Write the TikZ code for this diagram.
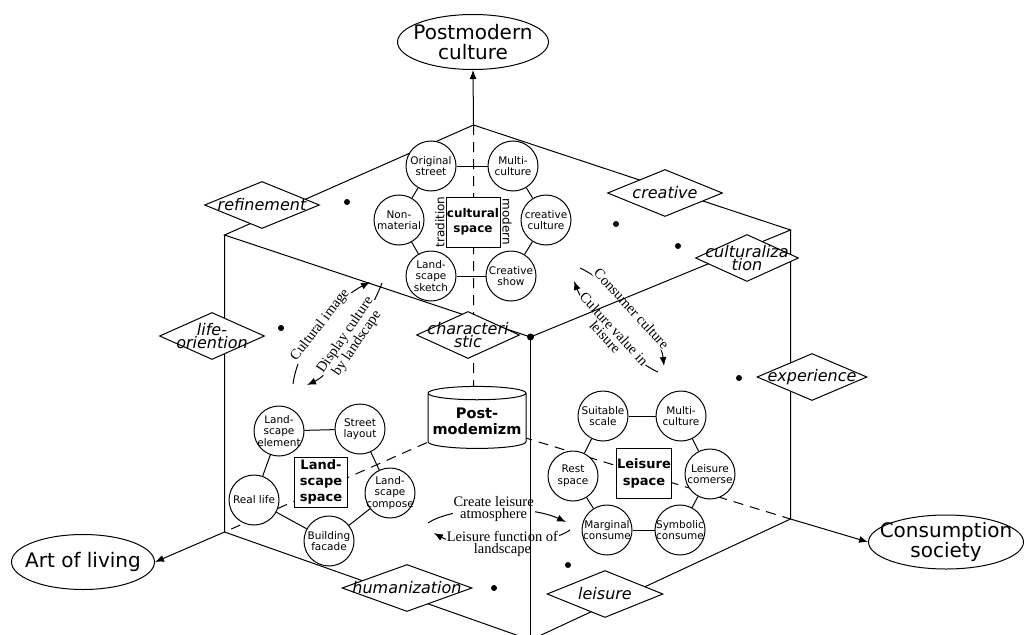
\documentclass[tikz,border=0pt]{standalone}
\usepackage{fontspec}
\setmainfont{DejaVu Sans}
\newfontfamily\notefont{Liberation Serif}
\usepackage{tikz}
\usetikzlibrary{shapes.geometric,arrows.meta}

\tikzset{
  goal/.style={ellipse, draw, fill=white, inner sep=0pt,
    label={[goaltext]center:#1}},
  goaltext/.style={align=center, font=\fontsize{20}{20}\selectfont},
  facet/.style={diamond, draw, fill=white, inner sep=0pt,
    minimum width=115pt, minimum height=47pt,
    label={[facettext]center:#1}},
  facettext/.style={align=center, font=\fontsize{16}{12}\selectfont\itshape},
  ring/.style={circle, draw, fill=white, inner sep=0pt, minimum size=50pt,
    label={[ringtext]center:#1}},
  ringtext/.style={align=center, font=\fontsize{10.5}{11.5}\selectfont},
  core/.style={rectangle, draw, fill=white, inner sep=0pt,
    minimum width=54pt, minimum height=50pt, align=center,
    font=\fontsize{12}{15}\selectfont\bfseries},
  note/.style={fill=white, inner sep=1pt, align=center,
    font=\notefont\fontsize{14.5}{12}\selectfont},
  flow/.style={-{Latex[length=9pt,width=7pt]}},
  backedge/.style={dash pattern=on 10pt off 7pt}
}

\begin{document}
\begin{tikzpicture}[x=1pt, y=-1pt, line width=1pt]
  \useasboundingbox (0,0) rectangle (1024,634);

  \coordinate (T) at (473.5,125);
  \coordinate (LT) at (224.5,235);
  \coordinate (F) at (530.5,337);
  \coordinate (RT) at (790.5,230);
  \coordinate (LB) at (224.5,532);
  \coordinate (RB) at (790.5,519);
  \coordinate (B) at (530.5,640);
  \coordinate (H) at (473.5,422);

  \draw [backedge] (T) -- (H) (H) -- (LB) (H) -- (RB);

  \coordinate (ci1) at (293,384);
  \coordinate (ci2) at (370,282);
  \draw [flow] (ci1) .. controls (298,345) and (335,300) .. node[note, sloped] (cimg) {Cultural image} (ci2);
  \coordinate (dc1) at (382,283);
  \coordinate (dc2) at (307,385);
  \draw [flow] (dc1) .. controls (372,310) and (335,372) .. node[note, sloped] (dcul) {Display culture\\by landscape} (dc2);
  \coordinate (cc1) at (580,268);
  \coordinate (cc2) at (664,366);
  \draw [flow] (cc1) .. controls (610,282) and (660,330) .. node[note, sloped] (ccul) {Consumer culture} (cc2);
  \coordinate (cv1) at (658,372);
  \coordinate (cv2) at (574,281);
  \draw [flow] (cv1) .. controls (630,360) and (585,310) .. node[note, sloped] (cval) {Culture value in\\leisure} (cv2);
  \coordinate (ca1) at (428,523);
  \coordinate (ca2) at (566,522);
  \draw [flow] (ca1) .. controls (455,505) and (530,505) .. node[note] (catm) {Create leisure\\atmosphere} (ca2);
  \coordinate (lf1) at (570,530);
  \coordinate (lf2) at (434,533);
  \draw [flow] (lf1) .. controls (545,548) and (460,548) .. node[note] (lfun) {Leisure function of\\landscape} (lf2);

  \draw (T) -- (LT) -- (F) -- (RT) -- cycle;
  \draw (LT) -- (LB) -- (B) -- (RB) -- (RT);
  \draw (F) -- (B);

  \node[goal={Postmodern\\culture}, minimum width=151pt, minimum height=55pt] (pmc) at (473,42) {};
  \node[goal={Art of living}, minimum width=143pt, minimum height=55pt] (art) at (83,562) {};
  \node[goal={Consumption\\society}, minimum width=155pt, minimum height=54pt] (cons) at (946,542) {};
  \draw [flow] (T) -- (pmc.south);
  \draw [flow] (LB) -- (art.east);
  \draw [flow] (RB) -- (cons.west);

  \node[facet=refinement] (refine) at (262,205) {};
  \node[facet=creative] (creat) at (665,193) {};
  \node[facet={culturaliza\\tion}, minimum width=103pt] (cultz) at (747,258) {};
  \node[facet={life-\\oriention}, minimum width=105pt] (life) at (212,336) {};
  \node[facet={characteri\\stic}, minimum width=103pt] (chara) at (468,335) {};
  \node[facet=experience, minimum width=110pt] (exper) at (812,377) {};
  \node[facet=humanization, minimum width=130pt] (human) at (407,588) {};
  \node[facet=leisure, minimum width=116pt] (leis) at (605,594) {};

  \node[core] (cbox) at (473,222) {cultural\\space};
  \node[rotate=90, font=\fontsize{12}{12}\selectfont] (trad) at (440,222) {tradition};
  \node[rotate=-90, font=\fontsize{12}{12}\selectfont] (modn) at (507,222) {modern};
  \node[ring={Original\\street}] (orig) at (431,166) {};
  \node[ring={Multi-\\culture}] (multi) at (513,166) {};
  \node[ring={Non-\\material}] (nonmat) at (399,220) {};
  \node[ring={creative\\culture}] (crcult) at (546,220) {};
  \node[ring={Land-\\scape\\sketch}] (lsketch) at (431,276) {};
  \node[ring={Creative\\show}] (crshow) at (511,276) {};
  \foreach \a/\b in {orig/multi, multi/crcult, crcult/crshow, crshow/lsketch, lsketch/nonmat, nonmat/orig} {
    \draw (\a) -- (\b);
  }

  \node[cylinder, shape border rotate=90, aspect=0.15, draw, fill=white, inner sep=0pt,
    minimum width=98pt, minimum height=62pt, align=center,
    font=\fontsize{14.5}{16}\selectfont\bfseries] (pomo) at (477,421) {Post-\\modemizm};

  \node[core, minimum width=53pt, font=\fontsize{13}{16}\selectfont\bfseries] (lbox) at (321,482) {Land-\\scape\\space};
  \node[ring={Land-\\scape\\element}] (lelem) at (279,431) {};
  \node[ring={Street\\layout}] (street) at (360,429) {};
  \node[ring={Land-\\scape\\compose}] (lcomp) at (390,493) {};
  \node[ring={Building\\facade}] (build) at (329,541) {};
  \node[ring={Real life}] (real) at (254,500) {};
  \foreach \a/\b in {lelem/street, street/lcomp, lcomp/build, build/real, real/lelem} {
    \draw (\a) -- (\b);
  }

  \node[core, minimum width=55pt, font=\fontsize{13}{17}\selectfont\bfseries] (sbox) at (644,473) {Leisure\\space};
  \node[ring={Suitable\\scale}] (suit) at (603,416) {};
  \node[ring={Multi-\\culture}] (lmulti) at (681,416) {};
  \node[ring={Leisure\\comerse}] (lcom) at (710,474) {};
  \node[ring={Symbolic\\consume}] (symb) at (680,530) {};
  \node[ring={Marginal\\consume}] (marg) at (607,530) {};
  \node[ring={Rest\\space}] (rest) at (573,476) {};
  \foreach \a/\b in {suit/lmulti, lmulti/lcom, lcom/symb, symb/marg, marg/rest, rest/suit} {
    \draw (\a) -- (\b);
  }

  \foreach \x/\y in {347/202, 616/224, 678/246, 281/328, 739/378, 494/588, 568/565} {
    \fill[black] (\x,\y) circle (3pt);
  }
  \fill[black] (F) circle (3.5pt);
\end{tikzpicture}
\end{document}
